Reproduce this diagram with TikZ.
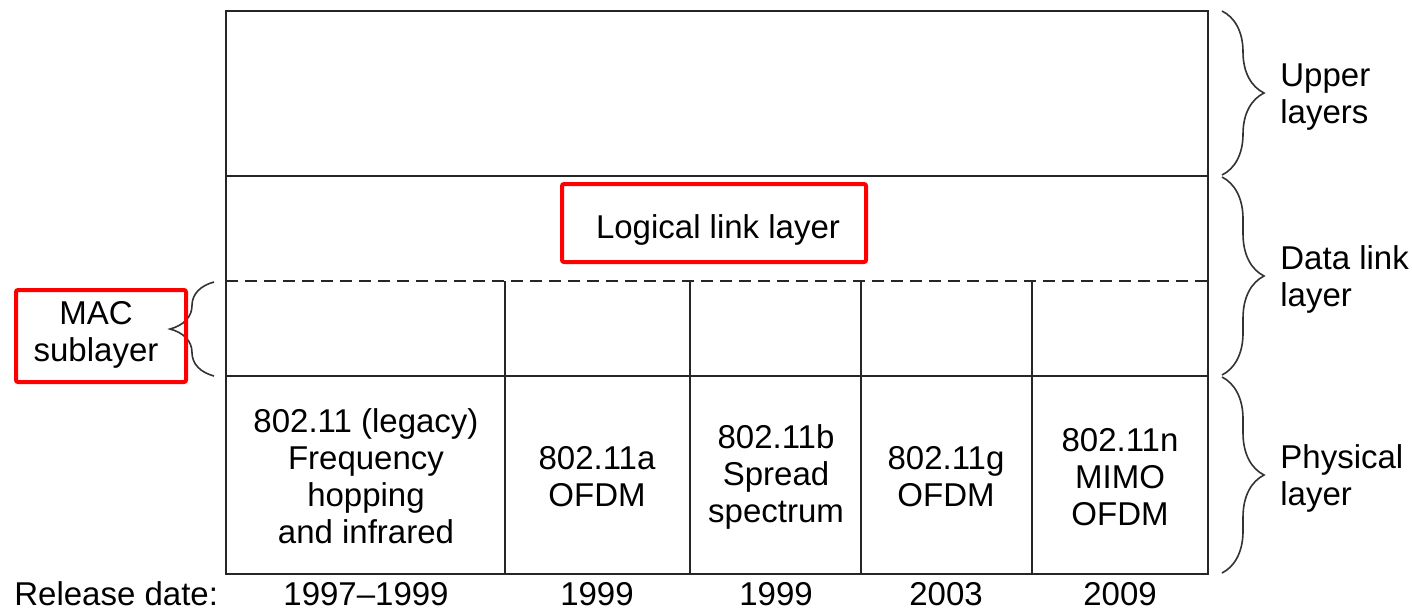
\documentclass[tikz,border=0pt]{standalone}
\usepackage{fontspec}
\setmainfont{Liberation Sans}
\usetikzlibrary{decorations.pathreplacing}
\begin{document}
\begin{tikzpicture}[x=0.5pt,y=-0.5pt,
  frame/.style={draw=black!85,line width=1pt},
  dashline/.style={draw=black!85,line width=0.8pt,dash pattern=on 6pt off 3.5pt},
  lbl/.style={inner sep=0pt,font=\fontsize{16.5}{18.5}\selectfont,align=center},
  side/.style={lbl,align=left,anchor=west},
  redbox/.style={draw=red,line width=2pt,rounded corners=1pt},
  curly/.style={draw=black!80,line width=0.8pt,decorate,decoration={brace,amplitude=21pt}}]
\useasboundingbox (0,0) rectangle (1412,612);
% outer frame and layer boundaries
\coordinate (tl) at (226,11);
\coordinate (br) at (1208,574);
\draw[frame] (tl) rectangle (br);
\draw[frame] (226,176) coordinate (u0) -- (1208,176) coordinate (u1);
\draw[dashline] (226,281) coordinate (d0) -- (1208,281) coordinate (d1);
\draw[frame] (226,376) coordinate (p0) -- (1208,376) coordinate (p1);
% column separators
\foreach \cx/\nm in {505/c1,690/c2,861/c3,1032/c4}
  \draw[frame] (\cx,281) coordinate (\nm t) -- (\cx,574) coordinate (\nm b);
% logical link label
\node[lbl] (llc) at (718,230) {Logical link layer};
\draw[redbox] (562,184) rectangle (866,262);
% physical layer variants
\node[lbl] (p1) at (366,476) {802.11 (legacy)\\Frequency\\hopping\\and infrared};
\node[lbl] (p2) at (597,477) {802.11a\\OFDM};
\node[lbl] (p3) at (776,477) {802.11b\\Spread\\spectrum};
\node[lbl] (p4) at (946,477) {802.11g\\OFDM};
\node[lbl] (p5) at (1120,477) {802.11n\\MIMO\\OFDM};
% release dates
\node[lbl,anchor=west] (rd) at (14,594) {Release date:};
\node[lbl] (y1) at (366,594) {1997--1999};
\node[lbl] (y2) at (597,594) {1999};
\node[lbl] (y3) at (776,594) {1999};
\node[lbl] (y4) at (946,594) {2003};
\node[lbl] (y5) at (1120,594) {2009};
% right-hand braces and labels
\draw[curly] (1222,11) -- (1222,175);
\draw[curly] (1222,177) -- (1222,375);
\draw[curly] (1222,377) -- (1222,573);
\node[side] (up) at (1280,97) {Upper\\layers};
\node[side] (dl) at (1280,279) {Data link\\layer};
\node[side] (ph) at (1280,478) {Physical\\layer};
% MAC sublayer brace and label
\draw[curly,decoration={brace,amplitude=22pt}] (214,376) -- (214,282);
\node[lbl] (mac) at (96,335) {MAC\\sublayer};
\draw[redbox] (16,290) rectangle (186,382);
\end{tikzpicture}
\end{document}
